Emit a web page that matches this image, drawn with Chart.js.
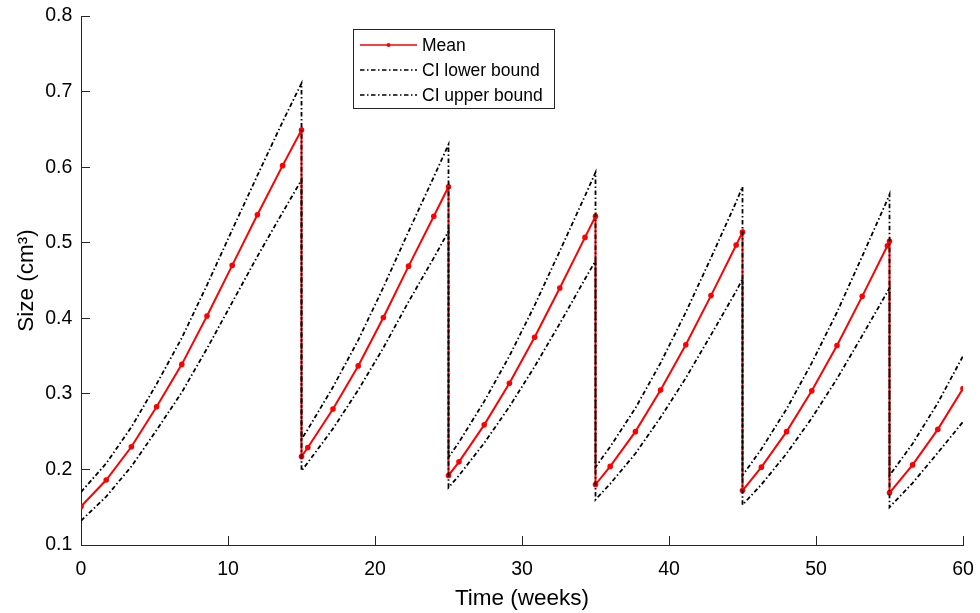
<!DOCTYPE html>
<html>
<head>
<meta charset="utf-8">
<title>Tumour size</title>
<script src="https://cdn.jsdelivr.net/npm/chart.js@4.4.1/dist/chart.umd.min.js"></script>
<style>
  html, body { margin: 0; padding: 0; background: #fff; }
  #wrap { width: 980px; height: 613px; }
</style>
</head>
<body>
<div id="wrap"><canvas id="sizeChart" width="980" height="613"></canvas></div>
<script>
// Sample times (weeks); every treatment week (15, 25, 35, 45, 55) appears twice for the drop
const weeks = [
  0, 1.714, 3.429, 5.143, 6.857, 8.571, 10.286, 12, 13.714, 15,
  15, 15.429, 17.143, 18.857, 20.571, 22.286, 24, 25,
  25, 25.714, 27.429, 29.143, 30.857, 32.571, 34.286, 35,
  35, 36, 37.714, 39.429, 41.143, 42.857, 44.571, 45,
  45, 46.286, 48, 49.714, 51.429, 53.143, 54.857, 55,
  55, 56.571, 58.286, 60
];

const meanSize = [
  0.151, 0.186, 0.230, 0.283, 0.339, 0.403, 0.470, 0.537, 0.602, 0.649,
  0.217, 0.229, 0.280, 0.337, 0.401, 0.469, 0.535, 0.574,
  0.192, 0.210, 0.259, 0.314, 0.375, 0.440, 0.507, 0.535,
  0.180, 0.204, 0.250, 0.305, 0.365, 0.430, 0.497, 0.514,
  0.172, 0.203, 0.250, 0.304, 0.364, 0.429, 0.496, 0.502,
  0.169, 0.206, 0.253, 0.307
];

const ciLower = [
  0.132, 0.164, 0.204, 0.252, 0.302, 0.360, 0.421, 0.482, 0.540, 0.583,
  0.198, 0.209, 0.254, 0.305, 0.361, 0.422, 0.480, 0.515,
  0.176, 0.192, 0.235, 0.283, 0.336, 0.393, 0.452, 0.476,
  0.160, 0.181, 0.221, 0.269, 0.321, 0.378, 0.436, 0.452,
  0.153, 0.180, 0.221, 0.268, 0.320, 0.377, 0.435, 0.440,
  0.150, 0.182, 0.222, 0.263
];

const ciUpper = [
  0.170, 0.208, 0.256, 0.313, 0.374, 0.444, 0.517, 0.589, 0.660, 0.711,
  0.240, 0.253, 0.309, 0.371, 0.441, 0.515, 0.587, 0.630,
  0.216, 0.236, 0.290, 0.350, 0.417, 0.489, 0.562, 0.593,
  0.203, 0.230, 0.281, 0.341, 0.408, 0.480, 0.554, 0.574,
  0.192, 0.227, 0.280, 0.341, 0.408, 0.482, 0.557, 0.564,
  0.192, 0.234, 0.288, 0.350
];

const xTicks = [0, 10, 20, 30, 40, 50, 60];
const yTicks = [0.1, 0.2, 0.3, 0.4, 0.5, 0.6, 0.7, 0.8];
const seriesNames = ["Mean", "CI lower bound", "CI upper bound"];

const FONT = '"Liberation Sans", Arial, Helvetica, sans-serif';
const AXIS_COLOR = "#262626";
const DASH_DOT = [4.5, 2.5, 1.5, 2.5];

function toPoints(values) {
  return values.map((v, i) => ({ x: weeks[i], y: v }));
}

// fixed axis boxes so the plot area does not move with label sizes
function fixX(s) {
  s.height = 68;
  s.paddingLeft = 0;
  s.paddingRight = 0;
}
function fixY(s) {
  s.width = 81;
  s.paddingTop = 0;
  s.paddingBottom = 0;
}

// legend box drawn inside the plot, MATLAB style
const boxLegend = {
  id: "boxLegend",
  afterDatasetsDraw(chart) {
    const ctx = chart.ctx;
    const left = 353.5, top = 29.5, w = 201, h = 79;
    ctx.save();
    ctx.fillStyle = "#fff";
    ctx.fillRect(left, top, w, h);
    ctx.strokeStyle = AXIS_COLOR;
    ctx.lineWidth = 1;
    ctx.strokeRect(left, top, w, h);

    const rows = [45, 70, 95];
    chart.data.datasets.forEach((ds, i) => {
      const y = rows[i];
      ctx.beginPath();
      ctx.strokeStyle = ds.borderColor;
      ctx.lineWidth = ds.borderWidth * 0.7;
      ctx.setLineDash(ds.borderDash || []);
      ctx.moveTo(360, y);
      ctx.lineTo(417, y);
      ctx.stroke();
      ctx.setLineDash([]);
      if (ds.pointRadius > 0) {
        ctx.beginPath();
        ctx.fillStyle = ds.borderColor;
        ctx.arc(388.5, y, 2, 0, Math.PI * 2);
        ctx.fill();
      }
      ctx.fillStyle = "#000";
      ctx.font = "17.5px " + FONT;
      ctx.textBaseline = "middle";
      ctx.textAlign = "left";
      ctx.fillText(ds.label, 422, y + 1);
    });
    ctx.restore();
  }
};

const ctx = document.getElementById("sizeChart");
const sizeChart = new Chart(ctx, {
  type: "line",
  data: {
    datasets: [
      {
        label: seriesNames[0],
        data: toPoints(meanSize),
        borderColor: "#ff0000",
        backgroundColor: "#ff0000",
        borderWidth: 2,
        pointRadius: 2.8,
        pointBorderWidth: 0,
        pointBackgroundColor: "#ff0000",
        tension: 0,
        order: 2,
      },
      {
        label: seriesNames[1],
        data: toPoints(ciLower),
        borderColor: "#000000",
        borderWidth: 1.8,
        borderDash: DASH_DOT,
        pointRadius: 0,
        tension: 0,
        order: 1,
      },
      {
        label: seriesNames[2],
        data: toPoints(ciUpper),
        borderColor: "#000000",
        borderWidth: 1.8,
        borderDash: DASH_DOT,
        pointRadius: 0,
        tension: 0,
        order: 1,
      },
    ],
  },
  options: {
    responsive: false,
    animation: false,
    devicePixelRatio: 1,
    layout: { padding: { top: 16, right: 17, left: 0, bottom: 0 } },
    plugins: {
      legend: { display: false },
      tooltip: { enabled: false },
    },
    scales: {
      x: {
        type: "linear",
        min: 0,
        max: 60,
        afterFit: fixX,
        afterBuildTicks: (s) => { s.ticks = xTicks.map((v) => ({ value: v })); },
        ticks: {
          color: "#000",
          padding: 22,
          maxRotation: 0,
          font: { family: FONT, size: 19.5 },
        },
        grid: {
          drawOnChartArea: false,
          drawTicks: true,
          tickLength: -9,
          color: AXIS_COLOR,
        },
        border: { display: true, color: AXIS_COLOR, width: 1 },
        title: {
          display: true,
          text: "Time (weeks)",
          color: "#000",
          font: { family: FONT, size: 22.5 },
          padding: { top: 0, bottom: 1 },
        },
      },
      y: {
        type: "linear",
        min: 0.1,
        max: 0.8,
        afterFit: fixY,
        afterBuildTicks: (s) => { s.ticks = yTicks.map((v) => ({ value: v })); },
        ticks: {
          color: "#000",
          padding: 17.7,
          callback: (v) => v.toFixed(1),
          font: { family: FONT, size: 19.5 },
        },
        grid: {
          drawOnChartArea: false,
          drawTicks: true,
          tickLength: -9,
          color: AXIS_COLOR,
        },
        border: { display: true, color: AXIS_COLOR, width: 1 },
        title: {
          display: true,
          text: "Size (cm³)",
          color: "#000",
          font: { family: FONT, size: 22.5 },
          padding: { top: 13.5, bottom: 0 },
        },
      },
    },
  },
  plugins: [boxLegend],
});
</script>
</body>
</html>
